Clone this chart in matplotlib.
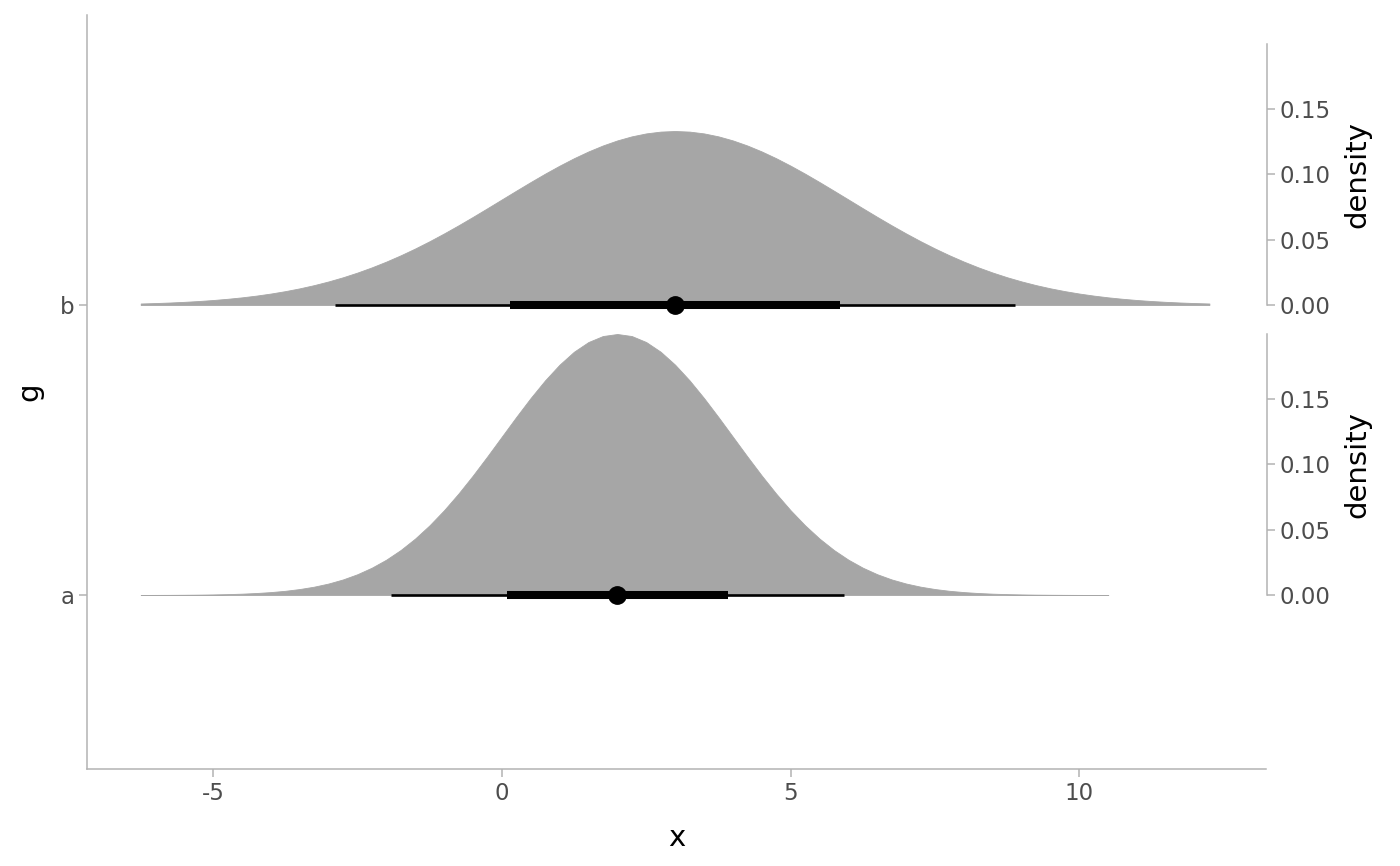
import numpy as np
import matplotlib.pyplot as plt
from matplotlib.transforms import blended_transform_factory

# groups and their position on the y axis
groups = ['a', 'b']
group_pos = [1, 2]

x_a = np.arange(-6.25, 10.51, 0.25)
dens_a = [0.00004, 0.00007, 0.00011, 0.00018, 0.00028, 0.00044, 0.00067, 0.00101,
          0.00151, 0.00222, 0.00320, 0.00455, 0.00636, 0.00876, 0.01188, 0.01587,
          0.02087, 0.02700, 0.03439, 0.04314, 0.05327, 0.06476, 0.07750, 0.09132,
          0.10594, 0.12099, 0.13603, 0.15057, 0.16408, 0.17603, 0.18593, 0.19333,
          0.19792, 0.19947, 0.19792, 0.19333, 0.18593, 0.17603, 0.16408, 0.15057,
          0.13603, 0.12099, 0.10594, 0.09132, 0.07750, 0.06476, 0.05327, 0.04314,
          0.03439, 0.02700, 0.02087, 0.01587, 0.01188, 0.00876, 0.00636, 0.00455,
          0.00320, 0.00222, 0.00151, 0.00101, 0.00067, 0.00044, 0.00028, 0.00018,
          0.00011, 0.00007, 0.00004, 0.00002]

x_b = np.arange(-6.25, 12.26, 0.25)
dens_b = [0.00115, 0.00148, 0.00189, 0.00240, 0.00303, 0.00380, 0.00473, 0.00584,
          0.00717, 0.00874, 0.01058, 0.01272, 0.01518, 0.01800, 0.02118, 0.02477,
          0.02876, 0.03316, 0.03797, 0.04317, 0.04875, 0.05467, 0.06088, 0.06733,
          0.07395, 0.08066, 0.08736, 0.09397, 0.10038, 0.10648, 0.11218, 0.11735,
          0.12192, 0.12579, 0.12889, 0.13115, 0.13252, 0.13298, 0.13252, 0.13115,
          0.12889, 0.12579, 0.12192, 0.11735, 0.11218, 0.10648, 0.10038, 0.09397,
          0.08736, 0.08066, 0.07395, 0.06733, 0.06088, 0.05467, 0.04875, 0.04317,
          0.03797, 0.03316, 0.02876, 0.02477, 0.02118, 0.01800, 0.01518, 0.01272,
          0.01058, 0.00874, 0.00717, 0.00584, 0.00473, 0.00380, 0.00303, 0.00240,
          0.00189, 0.00148, 0.00115]

# point + intervals
medians = [2.0, 3.0]
int66_lo = [0.09, 0.14]
int66_hi = [3.91, 5.86]
int95_lo = [-1.92, -2.88]
int95_hi = [5.92, 8.88]

density_ticks = [0.00, 0.05, 0.10, 0.15]

axis_grey = '#B3B3B3'
text_grey = '#4D4D4D'
slab_grey = '#A6A6A6'

fig = plt.figure(figsize=(14, 8.66), dpi=100)
ax = fig.add_axes([87/1400, 97/866, (1266-87)/1400, (769-15)/866])

scale = 0.9
max_dens = max(max(dens_a), max(dens_b))
k = scale / max_dens

curves = [(x_a, dens_a), (x_b, dens_b)]
for (xs, ds), g in zip(curves, group_pos):
    ax.fill_between(xs, g, g + np.array(ds) * k, color=slab_grey, linewidth=0.6,
                    edgecolor=slab_grey)

for i, g in enumerate(group_pos):
    ax.plot([int95_lo[i], int95_hi[i]], [g, g], color='black', lw=1.9,
            solid_capstyle='butt')
    ax.plot([int66_lo[i], int66_hi[i]], [g, g], color='black', lw=5.8,
            solid_capstyle='butt')
    ax.plot(medians[i], g, 'o', color='black', ms=12.5)

ax.set_xlim(-7.18, 13.23)
ax.set_ylim(0.4, 3.0)
ax.set_yticks(group_pos)
ax.set_yticklabels(groups)
ax.set_xticks([-5, 0, 5, 10])
ax.set_xticklabels(['-5', '0', '5', '10'])

for side in ['top', 'right']:
    ax.spines[side].set_visible(False)
for side in ['left', 'bottom']:
    ax.spines[side].set_color(axis_grey)
    ax.spines[side].set_linewidth(1.1)
ax.tick_params(colors=axis_grey, labelcolor=text_grey, labelsize=16.5,
               length=5.5, width=1.1)
ax.set_xlabel('x', fontsize=21, labelpad=14)
ax.set_ylabel('g', fontsize=21, labelpad=12)

# one density axis per group, on the right
trans = blended_transform_factory(ax.transAxes, ax.transData)
for g in group_pos:
    sec = ax.inset_axes([1.0, g, 0.001, scale], transform=trans)
    sec.set_ylim(0, max_dens)
    sec.set_xticks([])
    sec.patch.set_visible(False)
    for side in ['top', 'left', 'bottom']:
        sec.spines[side].set_visible(False)
    sec.spines['right'].set_color(axis_grey)
    sec.spines['right'].set_linewidth(1.1)
    sec.yaxis.tick_right()
    sec.yaxis.set_label_position('right')
    sec.set_yticks(density_ticks)
    sec.set_yticklabels(['%.2f' % t for t in density_ticks])
    sec.tick_params(colors=axis_grey, labelcolor=text_grey, labelsize=16.5,
                    length=5.5, width=1.1)
    sec.set_ylabel('density', fontsize=21, labelpad=9)

fig.savefig('out.png', dpi=100)
